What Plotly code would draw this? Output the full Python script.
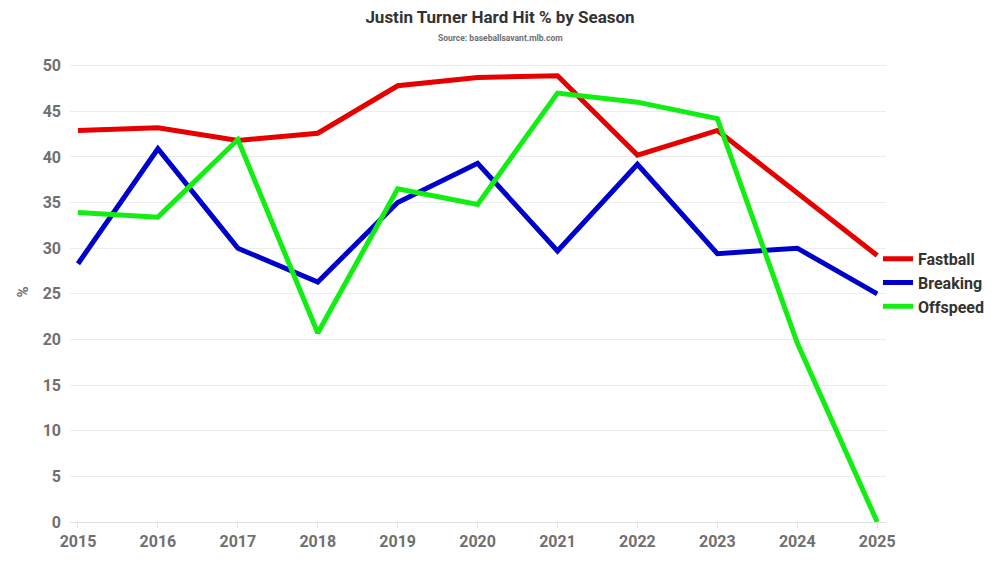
import plotly.graph_objects as go

seasons = [2015, 2016, 2017, 2018, 2019, 2020, 2021, 2022, 2023, 2024, 2025]
fastball = [42.9, 43.2, 41.8, 42.6, 47.8, 48.7, 48.9, 40.2, 42.9, 36.0, 29.2]
breaking = [28.3, 40.9, 30.0, 26.3, 35.0, 39.3, 29.7, 39.2, 29.4, 30.0, 25.0]
offspeed = [33.9, 33.4, 41.9, 20.7, 36.5, 34.8, 47.0, 46.0, 44.2, 19.6, 0.0]

series = [
    ("Fastball", fastball, "#e60000"),
    ("Breaking", breaking, "#0000cc"),
    ("Offspeed", offspeed, "#11ee11"),
]

fig = go.Figure()
for name, vals, color in series:
    fig.add_trace(
        go.Scatter(
            x=seasons,
            y=vals,
            mode="lines",
            name=name,
            line=dict(color=color, width=5),
        )
    )

tick_font = dict(family="Roboto", size=16, color="#707070", weight="bold")

fig.update_layout(
    width=1000,
    height=563,
    paper_bgcolor="white",
    plot_bgcolor="white",
    margin=dict(l=70, r=114, t=62, b=41, autoexpand=False),
    font=dict(family="Roboto"),
    title=dict(
        text="<b>Justin Turner Hard Hit % by Season</b>",
        x=0.5,
        xanchor="center",
        y=1 - 17 / 563,
        yanchor="middle",
        font=dict(family="Roboto", size=17, color="#333333"),
    ),
    xaxis=dict(
        range=[2014.9, 2025.11],
        tickmode="array",
        tickvals=seasons,
        ticks="outside",
        ticklen=5,
        tickcolor="#dde1e6",
        showgrid=False,
        showline=True,
        linecolor="#dde1e6",
        tickfont=tick_font,
        zeroline=False,
    ),
    yaxis=dict(
        range=[0, 50.4],
        tickvals=[0, 5, 10, 15, 20, 25, 30, 35, 40, 45, 50],
        gridcolor="#ececec",
        gridwidth=1,
        zeroline=False,
        tickfont=tick_font,
        ticks="",
        ticklabelstandoff=8,
        title=dict(text="%", font=dict(family="Roboto", size=15, color="#707070", weight="bold"), standoff=10),
    ),
    legend=dict(
        x=1 - 8 / 816,
        xanchor="left",
        y=0.52,
        yanchor="middle",
        font=dict(family="Roboto", size=16, color="#333333", weight="bold"),
        itemwidth=30,
        tracegroupgap=0,
        bgcolor="rgba(0,0,0,0)",
    ),
)

fig.add_annotation(
    text="<b>Source: baseballsavant.mlb.com</b>",
    xref="paper",
    yref="paper",
    x=0.5 + (500 - 70 - 408) / 816,
    y=1 + (62 - 38) / 460,
    xanchor="center",
    yanchor="middle",
    showarrow=False,
    font=dict(family="Roboto", size=8.5, color="#707070"),
)

fig.write_html(
    "out.html",
    config={"displayModeBar": False},
    post_script="document.body.style.margin='0';",
)
